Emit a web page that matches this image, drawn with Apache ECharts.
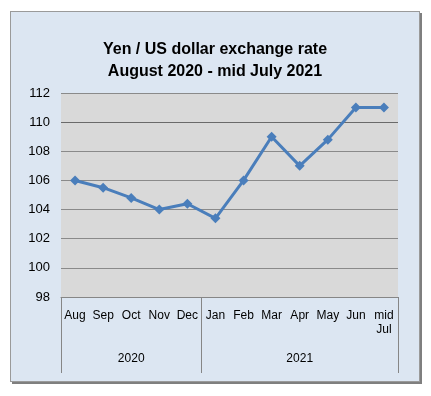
<!DOCTYPE html>
<html>
<head>
<meta charset="utf-8">
<script src="https://cdn.jsdelivr.net/npm/echarts@6/dist/echarts.min.js"></script>
<style>
html,body{margin:0;padding:0;background:#ffffff;width:431px;height:396px;overflow:hidden;}
#frame{position:absolute;left:10px;top:11px;width:410px;height:371px;box-sizing:border-box;border:1px solid #9a9a9a;box-shadow:2px 2px 0 #7f7f7f;background:#dce6f2;}
#chart{position:absolute;left:0;top:0;width:408px;height:369px;}
</style>
</head>
<body>
<div id="frame"><div id="chart"></div></div>
<script>
const titleText = 'Yen / US dollar exchange rate\nAugust 2020 - mid July 2021';
const months = ['Aug','Sep','Oct','Nov','Dec','Jan','Feb','Mar','Apr','May','Jun','mid\nJul'];
const yearLabels = ['','','2020','','','','','','2021','','',''];
const rates = [106.0,105.5,104.8,104.0,104.4,103.4,106.0,109.0,107.0,108.8,111.0,111.0];
const yMin = 98, yMax = 112, yStep = 2;

const chart = echarts.init(document.getElementById('chart'), null, {renderer:'canvas'});
const font = 'Liberation Sans, Arial, sans-serif';
chart.setOption({
  animation:false,
  title:{
    text:titleText,
    left:'center',
    top:22,
    textStyle:{fontFamily:font,fontSize:16,fontWeight:'bold',color:'#000',lineHeight:22}
  },
  grid:{left:50,top:81,width:337,height:204,show:true,backgroundColor:'#d9d9d9',borderWidth:0,containLabel:false},
  xAxis:[{
    type:'category',
    data:months,
    boundaryGap:true,
    axisLine:{show:true,lineStyle:{color:'#868686',width:1}},
    axisTick:{show:true,length:76,interval:function(i){return i===0||i===5;},lineStyle:{color:'#868686',width:1}},
    axisLabel:{interval:0,margin:12,fontFamily:font,fontSize:12,color:'#000',lineHeight:14},
    splitLine:{show:false}
  },{
    type:'category',
    data:yearLabels,
    position:'bottom',
    boundaryGap:true,
    axisLine:{show:false},
    axisTick:{show:false},
    axisLabel:{interval:0,margin:56,fontFamily:font,fontSize:12,color:'#000'},
    splitLine:{show:false}
  }],
  yAxis:{
    type:'value',
    min:yMin,max:yMax,interval:yStep,
    axisLine:{show:false},
    axisTick:{show:false},
    axisLabel:{margin:11,fontFamily:font,fontSize:13,color:'#000'},
    splitLine:{show:true,lineStyle:{color:['#8a8a8a','#8a8a8a','#8a8a8a','#8a8a8a','#8a8a8a','#8a8a8a','#6a6a6a','#8a8a8a'],width:1}}
  },
  series:[{
    type:'line',
    data:rates,
    xAxisIndex:0,
    symbol:'diamond',
    symbolSize:10,
    lineStyle:{color:'#4a7ebb',width:3},
    itemStyle:{color:'#4a7ebb'}
  }]
});
</script>
</body>
</html>
